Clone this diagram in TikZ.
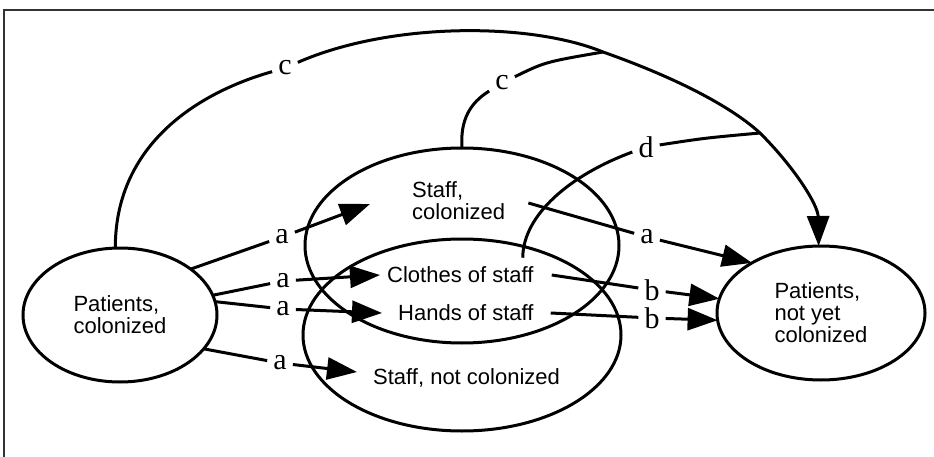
\documentclass[tikz,border=0pt]{standalone}
\usepackage{fontspec}
\setmainfont{Liberation Serif}
\newfontfamily\labsans{Liberation Sans}
\usetikzlibrary{arrows.meta,shapes.geometric}
\begin{document}
\begin{tikzpicture}[x=1pt,y=-1pt,
  ln/.style={line width=3pt},
  arr/.style={ln,-{Triangle[length=30pt,width=22pt]}},
  bubble/.style={draw,ellipse,line width=3pt,inner sep=0pt,outer sep=0pt},
  txt/.style={font=\labsans\fontsize{22}{22}\selectfont,align=left,inner sep=0pt},
  lab/.style={font=\fontsize{30}{30}\selectfont,inner xsep=6pt,inner ysep=4pt},
  labtight/.style={lab,inner ysep=1pt}
]
\fill[white] (0,0) rectangle (934,457);
\useasboundingbox (0,0) rectangle (934,457);
\draw[line width=1.8pt,black!80] (4,457) -- (4,10) -- (934,10);

% ellipses
\node[bubble,txt,minimum width=194pt,minimum height=134pt] (pc) at (120,315) {Patients,\\colonized};
\node[bubble,txt,minimum width=208pt,minimum height=134pt] (pn) at (821,313) {Patients,\\not yet\\colonized};
\node[bubble,minimum width=314pt,minimum height=195pt] (su) at (462,245.5) {};
\node[bubble,minimum width=318pt,minimum height=192pt] (sl) at (462,335) {};

% texts
\node[txt,anchor=west] (tsc) at (412,201) {Staff,\\colonized};
\node[txt,anchor=west] (tcl) at (387,275) {Clothes of staff};
\node[txt,anchor=west] (ths) at (398,313) {Hands of staff};
\node[txt,anchor=west] (tsn) at (373,378) {Staff, not colonized};

% labels
\node[lab] (la1) at (282,237) {a};
\node[labtight] (la2) at (283,281) {a};
\node[labtight] (la3) at (283,309) {a};
\node[lab] (la4) at (280,363) {a};
\node[lab] (la5) at (647,237) {a};
\node[lab] (lb1) at (652,290) {b};
\node[lab] (lb2) at (652,318) {b};
\node[lab] (lc1) at (285,68) {c};
\node[lab] (lc2) at (502,83) {c};
\node[lab] (ld) at (646,147) {d};

\coordinate (j1) at (603,52);
\coordinate (j2) at (760,133);

% a connectors
\draw[ln] (pc.33) -- (la1);
\draw[arr] (la1) -- ([xshift=-42pt,yshift=-3pt]tsc.west);
\draw[ln] (pc.12) -- (la2);
\draw[arr] (la2) -- ([xshift=-7pt]tcl.west);
\draw[ln] (pc.8) -- (la3);
\draw[arr] (la3) -- ([xshift=-16pt]ths.west);
\draw[ln] (pc.-22) -- (la4);
\draw[arr] (la4) -- ([xshift=-16pt,yshift=6pt]tsn.west);
\draw[ln] ([xshift=23pt,yshift=-2pt]tsc.east) -- (la5);
\draw[arr] (la5) -- (pn.144);

% b connectors
\draw[ln] ([xshift=18pt]tcl.east) -- (lb1);
\draw[arr] (lb1) -- (pn.172);
\draw[ln] ([xshift=17pt]ths.east) -- (lb2);
\draw[arr] (lb2) -- (pn.184);

% outer c
\draw[ln] (pc.94) .. controls (115,150) and (190,95) .. (lc1);
\draw[arr] (lc1) .. controls (390,22) and (530,22) .. (j1)
  .. controls (660,72) and (725,101) .. (j2)
  .. controls (795,168) and (818,205) .. (pn.92);

% inner c
\draw[ln] (su.north) .. controls (460,120) and (470,103) .. (lc2);
\draw[ln] (lc2) .. controls (545,62) .. (j1);

% d
\draw[ln] ([xshift=-11pt,yshift=9pt]tcl.north east) .. controls (523,215) and (570,175) .. (ld);
\draw[ln] (ld) .. controls (705,138) .. (j2);
\end{tikzpicture}
\end{document}
